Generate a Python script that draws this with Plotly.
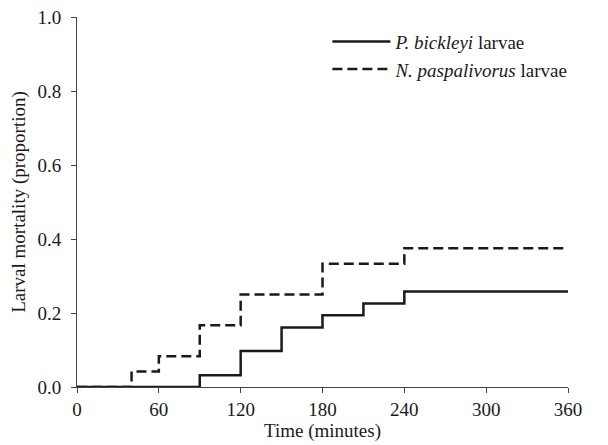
import plotly.graph_objects as go

# Data
time_pb = [0, 90, 120, 150, 180, 210, 240, 360]
mort_pb = [0.0, 0.032, 0.097, 0.161, 0.194, 0.226, 0.258, 0.258]

time_np = [0, 40, 60, 90, 120, 180, 240, 360]
mort_np = [0.0, 0.042, 0.083, 0.167, 0.25, 0.333, 0.375, 0.375]

x_ticks = [0, 60, 120, 180, 240, 300, 360]
y_ticks = [0.0, 0.2, 0.4, 0.6, 0.8, 1.0]
y_tick_labels = ["0.0", "0.2", "0.4", "0.6", "0.8", "1.0"]

font_family = "Liberation Serif"
ink = "#1a1a1a"

fig = go.Figure()
fig.add_trace(go.Scatter(
    x=time_pb, y=mort_pb, mode="lines", line_shape="hv",
    line=dict(color=ink, width=2.5),
    name="<i>P. bickleyi</i> larvae",
))
fig.add_trace(go.Scatter(
    x=time_np, y=mort_np, mode="lines", line_shape="hv",
    line=dict(color=ink, width=2.5, dash="10px,5px"),
    name="<i>N. paspalivorus</i> larvae",
))

fig.update_layout(
    width=608, height=445,
    margin=dict(l=77, r=40, t=17, b=58),
    paper_bgcolor="white", plot_bgcolor="white",
    font=dict(family=font_family, size=19, color=ink),
    showlegend=True,
    legend=dict(
        x=0.51, y=0.985, xanchor="left", yanchor="top",
        bgcolor="rgba(0,0,0,0)", font=dict(size=19, family=font_family),
        tracegroupgap=0, itemwidth=58,
    ),
    xaxis=dict(
        range=[0, 360], tickvals=x_ticks, ticks="outside", ticklen=5,
        tickwidth=1, tickcolor="#444", showline=True, linecolor="#444",
        linewidth=1, showgrid=False, zeroline=False, automargin=False,
        title=dict(text="Time (minutes)", standoff=4, font=dict(size=19)),
        tickfont=dict(size=19),
    ),
    yaxis=dict(
        range=[0, 1.0], tickvals=y_ticks, ticktext=y_tick_labels,
        ticks="outside", ticklen=5, tickwidth=1, tickcolor="#444",
        showline=True, linecolor="#444", linewidth=1, showgrid=False,
        zeroline=False, ticklabelstandoff=6, automargin=False,
        title=dict(text="Larval mortality (proportion)", standoff=6, font=dict(size=19)),
        tickfont=dict(size=19),
    ),
)

fig.write_html("out.html")
